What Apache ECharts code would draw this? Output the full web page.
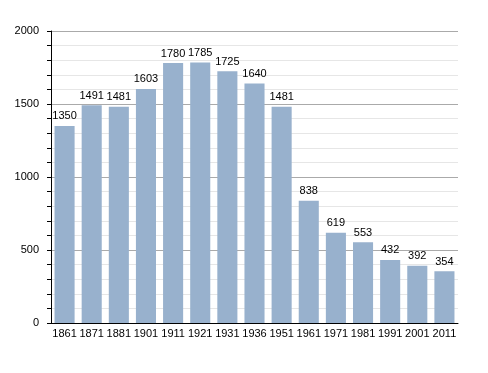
<!DOCTYPE html>
<html><head><meta charset="utf-8">
<script src="https://cdn.jsdelivr.net/npm/echarts@6/dist/echarts.min.js"></script>
<style>html,body{margin:0;padding:0;background:#fff}#c{width:488px;height:373px}</style>
</head><body><div id="c"></div>
<script>
var categories = ['1861','1871','1881','1901','1911','1921','1931','1936','1951','1961','1971','1981','1991','2001','2011'];
var population = [1350,1491,1481,1603,1780,1785,1725,1640,1481,838,619,553,432,392,354];
var yTicks = [0,500,1000,1500,2000];

var chart = echarts.init(document.getElementById('c'), null, {renderer:'canvas'});
chart.setOption({
  animation:false,
  grid:{left:51,right:30,top:31,bottom:50},
  xAxis:{
    type:'category', data:categories,
    axisLine:{lineStyle:{color:'#000',width:1}},
    axisTick:{show:false},
    axisLabel:{color:'#000',fontFamily:'Liberation Sans, Arial',fontSize:11,margin:5,interval:0}
  },
  yAxis:{
    type:'value', min:yTicks[0], max:yTicks[yTicks.length-1], interval:500,
    axisLine:{show:true,lineStyle:{color:'#000',width:1}},
    axisTick:{show:true,length:4,lineStyle:{color:'#000'}},
    minorTick:{show:true,splitNumber:5,length:4,lineStyle:{color:'#000'}},
    splitLine:{show:true,lineStyle:{color:'#aaaaaa',width:1}},
    minorSplitLine:{show:true,lineStyle:{color:'#e6e6e6',width:1}},
    axisLabel:{color:'#000',fontFamily:'Liberation Sans, Arial',fontSize:11,margin:12,
      formatter:function(v){return String(v);}}
  },
  series:[{
    type:'bar', data:population, barCategoryGap:'26%',
    itemStyle:{color:'#98b1cd'},
    label:{show:true,position:'top',color:'#000',fontFamily:'Liberation Sans, Arial',fontSize:11,distance:4}
  }]
});
</script></body></html>
